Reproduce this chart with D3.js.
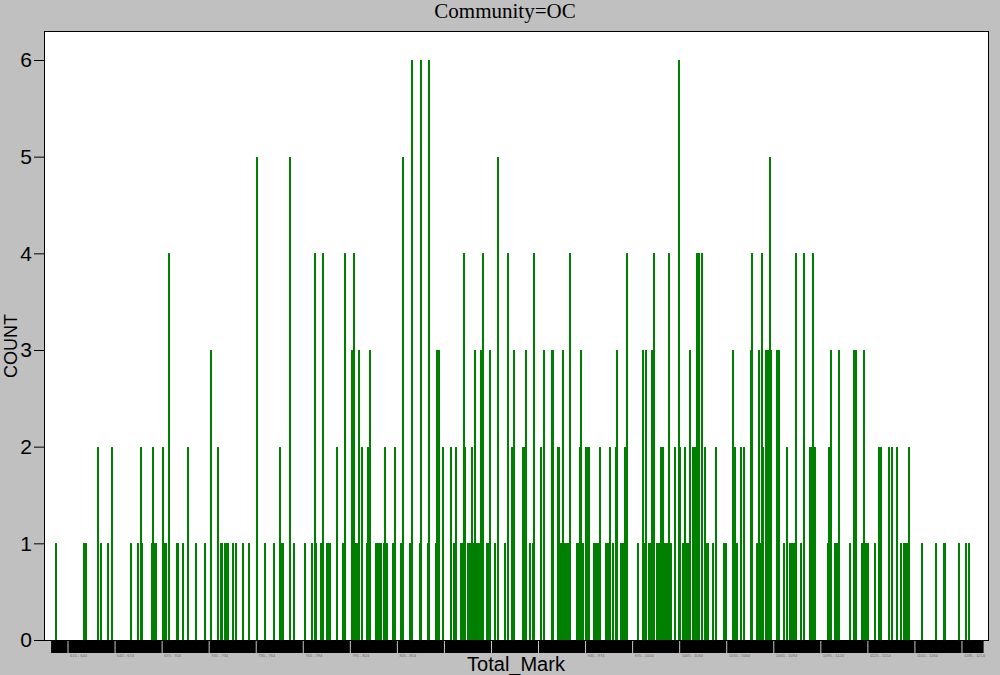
<!DOCTYPE html>
<html>
<head>
<meta charset="utf-8">
<script src="https://cdn.jsdelivr.net/npm/d3@7"></script>
<style>
body { margin: 0; background: #c0c0c0; }
svg { display: block; }
</style>
</head>
<body>
<script>
// Total_Mark values that have at least one OC student, and their counts
var marks = [607,625,626,634,636,640,643,655,659,661,662,668,669,670,671,675,676,677,679,684,685,688,691,696,702,706,710,712,713,715,716,717,720,722,726,730,735,740,746,750,751,752,756,759,766,770,772,773,776,777,780,781,782,786,790,791,796,797,798,799,800,802,805,806,807,811,812,813,814,816,817,818,822,823,827,828,833,834,839,840,844,845,849,850,851,854,859,861,862,865,866,867,868,870,871,872,873,874,875,876,877,878,879,882,883,884,887,889,893,895,898,899,905,906,907,909,911,912,916,918,923,924,927,928,929,930,931,932,933,934,935,939,940,941,942,943,945,946,947,950,951,952,953,954,958,959,960,962,964,965,967,968,969,970,971,978,981,982,983,985,986,987,988,990,991,992,993,994,995,996,997,998,999,1002,1004,1005,1007,1008,1009,1010,1011,1013,1014,1015,1016,1017,1019,1021,1022,1023,1026,1028,1033,1034,1039,1040,1041,1044,1046,1050,1051,1054,1055,1056,1057,1058,1060,1061,1062,1063,1067,1068,1071,1073,1075,1076,1077,1078,1079,1082,1084,1088,1089,1090,1091,1099,1100,1101,1104,1105,1106,1113,1116,1117,1121,1122,1123,1124,1125,1129,1132,1133,1138,1140,1143,1146,1148,1149,1150,1151,1159,1168,1173,1174,1183,1187,1189];
var counts = [1,1,1,2,1,1,2,1,1,2,1,1,2,1,1,2,1,1,4,1,1,1,2,1,1,3,2,1,1,1,1,1,1,1,1,1,5,1,1,2,1,1,5,1,1,1,4,1,1,4,1,1,1,2,1,4,3,4,1,1,3,2,1,2,3,1,1,1,1,1,2,1,1,2,1,5,1,6,1,6,1,6,1,3,3,2,2,1,2,1,1,4,2,1,1,2,1,3,1,1,1,3,4,1,1,3,1,5,1,4,2,3,2,2,3,1,1,4,2,3,3,3,2,2,1,3,1,1,1,1,4,1,1,2,3,1,2,2,2,1,1,1,1,2,1,1,2,1,2,3,1,1,1,2,4,1,3,1,3,1,1,3,4,1,1,1,2,2,1,1,1,4,1,2,6,2,1,2,1,1,3,2,2,2,4,4,4,2,1,1,1,2,1,1,3,2,1,2,2,3,4,1,3,1,4,2,3,3,5,3,3,3,1,2,1,1,1,1,4,1,4,2,2,4,2,1,2,3,1,1,3,1,3,3,1,3,1,1,1,1,2,2,2,2,2,1,1,1,1,2,1,1,1,1,1,1,1];
var countTicks = [0, 1, 2, 3, 4, 5, 6];
var markRange = [600, 1200];

var width = 1000,
	height = 675,
	plotLeft = 44,
	plotRight = 989,
	plotTop = 31,
	plotBottom = 640,
	green = '#008000',
	sans = 'Arial, "Liberation Sans", sans-serif';

var svg = d3.select('body').append('svg')
	.attr('width', width)
	.attr('height', height);

svg.append('rect')
	.attr('width', width)
	.attr('height', height)
	.attr('fill', '#c0c0c0');

var x = d3.scaleLinear().domain(markRange).range([plotLeft, 985]);
var y = d3.scaleLinear().domain([0, 6]).range([plotBottom, 60]);

// white plot area
svg.append('rect')
	.attr('x', plotLeft)
	.attr('y', plotTop)
	.attr('width', plotRight - plotLeft)
	.attr('height', plotBottom - plotTop)
	.attr('fill', '#fff');

// bars, one per Total_Mark
svg.append('g')
	.selectAll('rect')
	.data(d3.zip(marks, counts))
	.join('rect')
	.attr('x', function(d) { return x(d[0]); })
	.attr('y', function(d) { return y(d[1]); })
	.attr('width', 2)
	.attr('height', function(d) { return y(0) - y(d[1]); })
	.attr('fill', green)
	.attr('shape-rendering', 'crispEdges');

// frame
svg.append('rect')
	.attr('x', plotLeft + 0.5)
	.attr('y', plotTop + 0.5)
	.attr('width', plotRight - plotLeft - 1)
	.attr('height', plotBottom - plotTop)
	.attr('fill', 'none')
	.attr('stroke', '#000')
	.attr('shape-rendering', 'crispEdges');

// y axis
var yAxis = svg.append('g')
	.attr('transform', 'translate(' + plotLeft + ',0)')
	.call(d3.axisLeft(y).tickValues(countTicks).tickFormat(d3.format('d')).tickSize(10).tickPadding(2));
yAxis.select('.domain').remove();
yAxis.selectAll('line').attr('stroke', '#000');
yAxis.selectAll('text')
	.attr('font-family', sans)
	.attr('font-size', 21)
	.attr('fill', '#000');

// x axis: one tick per mark, so dense it reads as a black band
var bandMarks = d3.range(605, 1199);
var xAxis = svg.append('g')
	.attr('transform', 'translate(0,' + (plotBottom + 1) + ')')
	.call(d3.axisBottom(x).tickValues(bandMarks).tickSize(12).tickFormat(''));
xAxis.select('.domain').remove();
xAxis.selectAll('line')
	.attr('stroke', '#000')
	.attr('stroke-width', 2.5);

// light separators every 30 marks, with tiny group labels under the band
// (left blank where the axis title sits)
var groupMarks = d3.range(615, 1199, 30);
var sepAxis = svg.append('g')
	.attr('transform', 'translate(0,' + (plotBottom + 1) + ')')
	.call(d3.axisBottom(x).tickValues(groupMarks).tickSize(12).tickPadding(1)
		.tickFormat(function(d) {
			var px = x(d);
			return (px > 420 && px < 570) ? '' : d + ' - ' + (d + 29);
		}));
sepAxis.select('.domain').remove();
sepAxis.selectAll('line').attr('stroke', '#c8c8c8');
sepAxis.selectAll('text')
	.attr('text-anchor', 'start')
	.attr('dx', 2)
	.attr('font-family', sans)
	.attr('font-size', 4)
	.attr('fill', '#6a6a6a');

// titles
svg.append('text')
	.text('Community=OC')
	.attr('x', 505)
	.attr('y', 18)
	.attr('text-anchor', 'middle')
	.attr('font-family', '"Liberation Serif", "Times New Roman", serif')
	.attr('font-size', 21);

svg.append('text')
	.text('COUNT')
	.attr('transform', 'translate(17,346) rotate(-90)')
	.attr('text-anchor', 'middle')
	.attr('font-family', sans)
	.attr('font-size', 18);

svg.append('text')
	.text('Total_Mark')
	.attr('x', 516)
	.attr('y', 671)
	.attr('text-anchor', 'middle')
	.attr('font-family', sans)
	.attr('font-size', 20);
</script>
</body>
</html>
